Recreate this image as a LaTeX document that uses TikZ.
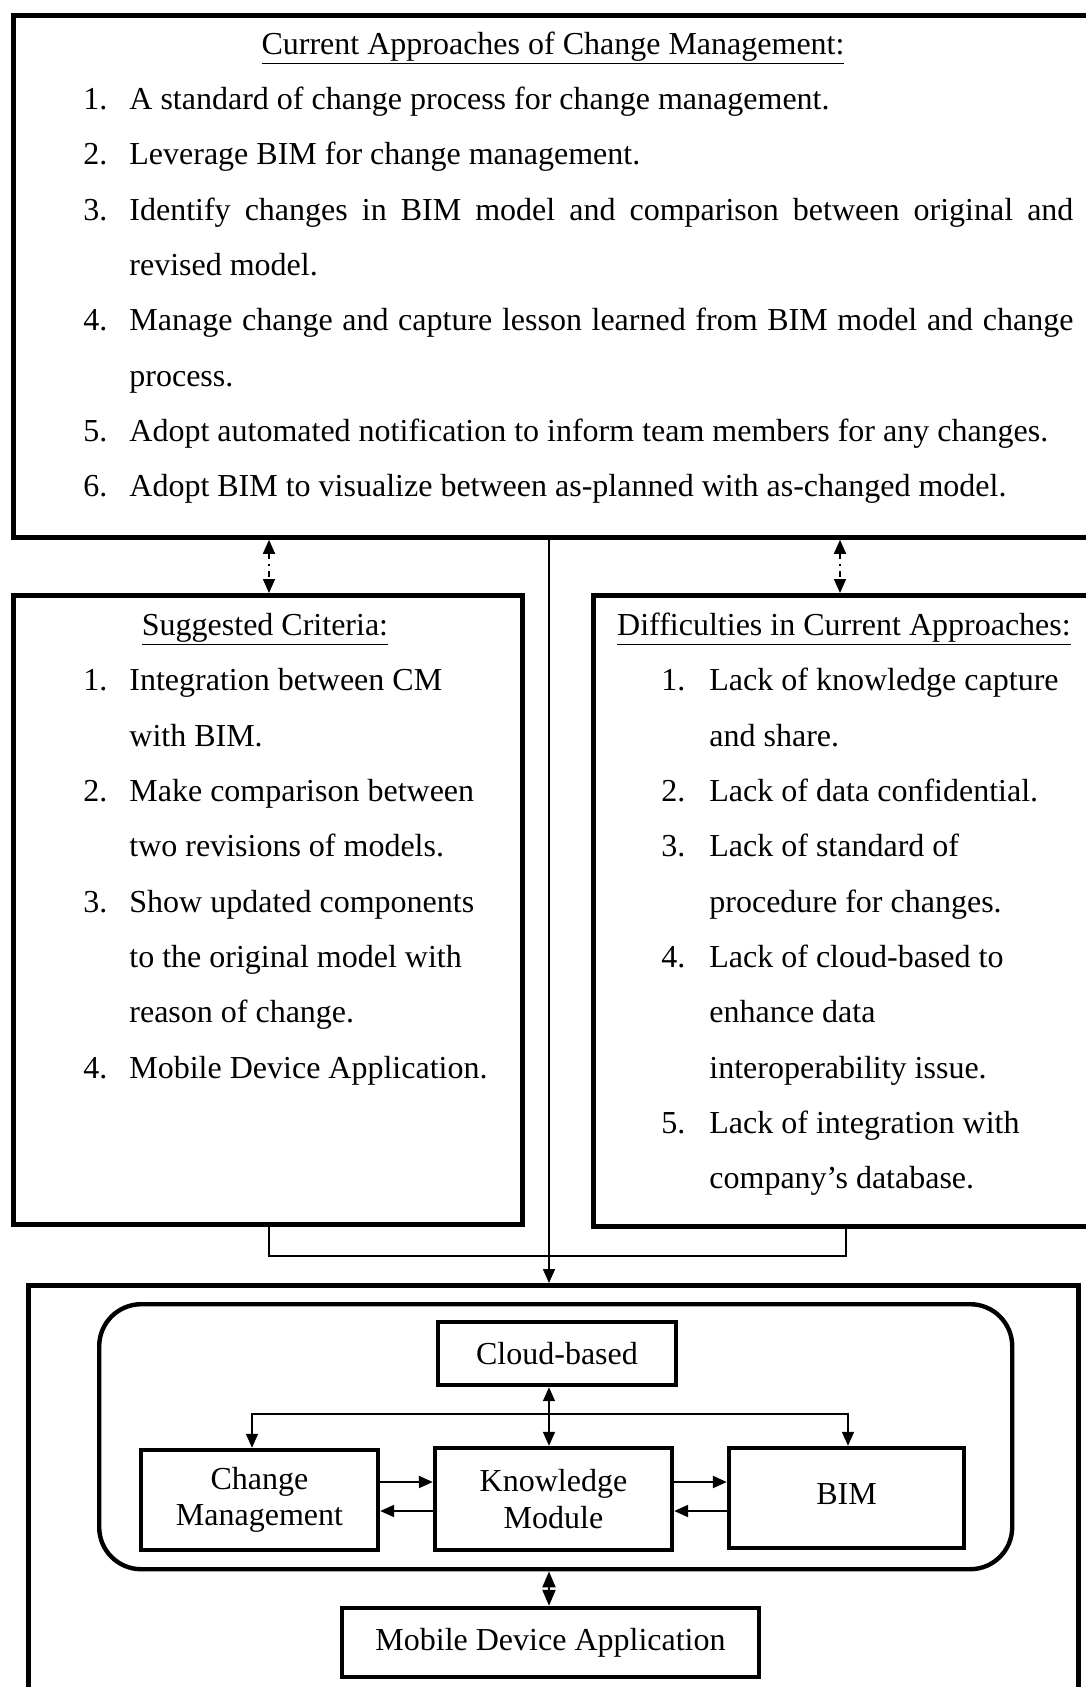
\documentclass[tikz,border=0pt]{standalone}
\usepackage{fontspec}
\setmainfont{Liberation Serif}
\usetikzlibrary{arrows.meta}
\begin{document}
\begin{tikzpicture}[x=0.5pt,y=-0.5pt,
  txt/.style={inner sep=0pt, anchor=base west, font=\fontsize{16}{19}\selectfont},
  ctxt/.style={inner sep=0pt, anchor=base, font=\fontsize{16}{19}\selectfont},
  bigbox/.style={draw, line width=2.4pt, inner sep=0pt, anchor=north west},
  box/.style={draw, line width=2.2pt, inner sep=0pt, align=center, font=\fontsize{16}{18.3}\selectfont},
  conn/.style={line width=0.8pt},
  arr/.style={conn, -{Triangle[length=7pt,width=6pt]}},
  darr/.style={conn, {Triangle[length=7pt,width=6pt]}-{Triangle[length=7pt,width=6pt]}},
  ddarr/.style={darr, dash pattern=on 3pt off 2.5pt on 1pt off 2.5pt},
]
\clip (0,0) rectangle (1086,1687);

% big boxes
\node[bigbox, minimum width=540.5pt, minimum height=261pt] (top) at (11,13) {};
\node[bigbox, minimum width=254.5pt, minimum height=314.5pt] (left) at (11,593) {};
\node[bigbox, minimum width=250.5pt, minimum height=315.5pt] (right) at (591,593) {};
\node[bigbox, minimum width=525pt, minimum height=208.5pt] (bottom) at (26,1283) {};
\node[bigbox, rounded corners=21pt, line width=2.2pt, minimum width=456.5pt, minimum height=132.5pt] (inner) at (97,1302) {};

% top box text
\node[ctxt] (t0) at (553,54) {\underline{Current Approaches of Change Management:}};
\node[txt] (n1) at (83,109) {1.};
\node[txt] (a1) at (129,109) {A standard of change process for change management.};
\node[txt] (n2) at (83,164) {2.};
\node[txt] (a2) at (129,164) {Leverage BIM for change management.};
\node[txt] (n3) at (83,220) {3.};
\node[txt] (a3) at (129,220) {\makebox[472pt][s]{Identify changes in BIM model and comparison between original and}};
\node[txt] (a3b) at (129,275) {revised model.};
\node[txt] (n4) at (83,330) {4.};
\node[txt] (a4) at (129,330) {\makebox[472pt][s]{Manage change and capture lesson learned from BIM model and change}};
\node[txt] (a4b) at (129,386) {process.};
\node[txt] (n5) at (83,441) {5.};
\node[txt] (a5) at (129,441) {Adopt automated notification to inform team members for any changes.};
\node[txt] (n6) at (83,496) {6.};
\node[txt] (a6) at (129,496) {Adopt BIM to visualize between as-planned with as-changed model.};

% left box text
\node[ctxt] (l0) at (265,635) {\underline{Suggested Criteria:}};
\node[txt] (ln1) at (83,690) {1.};
\node[txt] (l1) at (129,690) {Integration between CM};
\node[txt] (l1b) at (129,746) {with BIM.};
\node[txt] (ln2) at (83,801) {2.};
\node[txt] (l2) at (129,801) {Make comparison between};
\node[txt] (l2b) at (129,856) {two revisions of models.};
\node[txt] (ln3) at (83,912) {3.};
\node[txt] (l3) at (129,912) {Show updated components};
\node[txt] (l3b) at (129,967) {to the original model with};
\node[txt] (l3c) at (129,1022) {reason of change.};
\node[txt] (ln4) at (83,1078) {4.};
\node[txt] (l4) at (129,1078) {Mobile Device Application.};

% right box text
\node[ctxt] (r0) at (844,635) {\underline{Difficulties in Current Approaches:}};
\node[txt] (rn1) at (661,690) {1.};
\node[txt] (r1) at (709,690) {Lack of knowledge capture};
\node[txt] (r1b) at (709,746) {and share.};
\node[txt] (rn2) at (661,801) {2.};
\node[txt] (r2) at (709,801) {Lack of data confidential.};
\node[txt] (rn3) at (661,856) {3.};
\node[txt] (r3) at (709,856) {Lack of standard of};
\node[txt] (r3b) at (709,912) {procedure for changes.};
\node[txt] (rn4) at (661,967) {4.};
\node[txt] (r4) at (709,967) {Lack of cloud-based to};
\node[txt] (r4b) at (709,1022) {enhance data};
\node[txt] (r4c) at (709,1078) {interoperability issue.};
\node[txt] (rn5) at (661,1133) {5.};
\node[txt] (r5) at (709,1133) {Lack of integration with};
\node[txt] (r5b) at (709,1188) {company’s database.};

% inner boxes
\node[box, minimum width=119pt, minimum height=31.5pt] (cloud) at (557,1353.5) {Cloud-based};
\node[box, minimum width=118.5pt, minimum height=50pt] (cm) at (259.5,1500) {Change\\Management};
\node[box, minimum width=118.5pt, minimum height=51pt] (km) at (553.5,1499) {Knowledge\\Module};
\node[box, minimum width=117.5pt, minimum height=50pt] (bim) at (846.5,1498) {\raisebox{3.5pt}{BIM}};
\node[box, minimum width=208.5pt, minimum height=34.5pt] (mob) at (550.5,1642.5) {\raisebox{-1pt}{Mobile Device Application}};

% helper coordinates
\coordinate (ca) at (269,0);
\coordinate (cb) at (840,0);
\coordinate (cc) at (846,0);
\coordinate (cx) at (549,0);
\coordinate (brk) at (0,1256);
\coordinate (hl) at (0,1414);
\coordinate (xcm) at (252,0);
\coordinate (xbim) at (848,0);
\coordinate (ya) at (0,1482);
\coordinate (yb) at (0,1511);

% connectors
\draw[ddarr] (top.south -| ca) -- (left.north -| ca);
\draw[ddarr] (top.south -| cb) -- (right.north -| cb);
\draw[arr] (top.south -| cx) -- (bottom.north -| cx);
\draw[conn] (left.south -| ca) |- (brk -| cc) -- (right.south -| cc);

\draw[darr] (cloud.south -| cx) -- (km.north -| cx);
\draw[arr] (hl -| cx) -| (cm.north -| xcm);
\draw[arr] (hl -| cx) -| (bim.north -| xbim);
\draw[arr, line width=1.1pt] (cm.east |- ya) -- (km.west |- ya);
\draw[arr, line width=1.1pt] (km.west |- yb) -- (cm.east |- yb);
\draw[arr, line width=1.1pt] (km.east |- ya) -- (bim.west |- ya);
\draw[arr, line width=1.1pt] (bim.west |- yb) -- (km.east |- yb);
\draw[conn, line width=1.1pt, {Triangle[length=8pt,width=6.5pt]}-{Triangle[length=8pt,width=6.5pt]}] (inner.south -| cx) -- (mob.north -| cx);
\end{tikzpicture}
\end{document}
